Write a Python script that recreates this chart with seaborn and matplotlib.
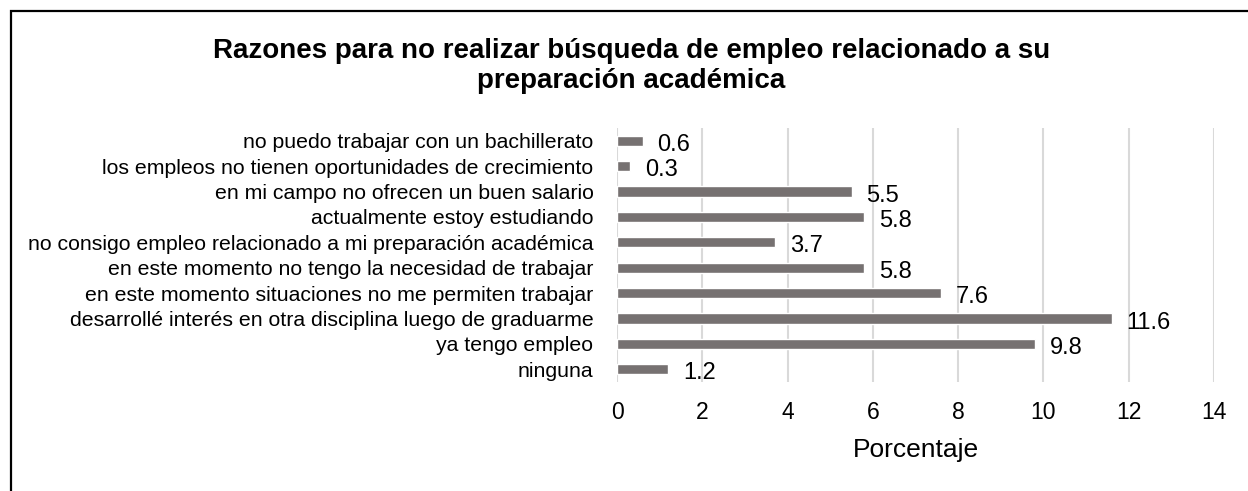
import matplotlib
matplotlib.use("Agg")
import matplotlib.pyplot as plt
import seaborn as sns
import pandas as pd
from matplotlib.patches import Rectangle

# datos, de arriba hacia abajo como aparecen en el grafico
razones = [
    "no puedo trabajar con un bachillerato",
    "los empleos no tienen oportunidades de crecimiento",
    "en mi campo no ofrecen un buen salario",
    "actualmente estoy estudiando",
    "no consigo empleo relacionado a mi preparación académica",
    "en este momento no tengo la necesidad de trabajar",
    "en este momento situaciones no me permiten trabajar",
    "desarrollé interés en otra disciplina luego de graduarme",
    "ya tengo empleo",
    "ninguna",
]
porcentajes = [0.6, 0.3, 5.5, 5.8, 3.7, 5.8, 7.6, 11.6, 9.8, 1.2]
ticks_x = [0, 2, 4, 6, 8, 10, 12, 14]

df = pd.DataFrame({"razon": razones, "pct": porcentajes})

sns.set_style("white")
plt.rcParams["font.family"] = ["Liberation Sans", "DejaVu Sans"]
plt.rcParams.update({"text.color": "black", "axes.labelcolor": "black",
                     "xtick.color": "black", "ytick.color": "black"})

fig = plt.figure(figsize=(12.48, 4.91), dpi=100)
ax = fig.add_axes([617 / 1248, 1 - 382 / 491, (1214 - 617) / 1248, (382 - 128) / 491])

sns.barplot(data=df, x="pct", y="razon", color="#767171", width=0.4,
            saturation=1, ax=ax, zorder=3)

ax.set_xlim(0, 14)
ax.set_xticks(ticks_x)
ax.set_xticklabels([str(t) for t in ticks_x], fontsize=16.5)
ax.tick_params(axis="y", labelsize=15.3, length=0, pad=17)
ax.tick_params(axis="x", length=0, pad=14)
ax.xaxis.grid(True, color="#d9d9d9", linewidth=1.5, zorder=0)
ax.yaxis.grid(False)
for s in ax.spines.values():
    s.set_visible(False)
ax.set_ylabel("")
ax.set_xlabel("Porcentaje", fontsize=19, labelpad=10)

for i, v in enumerate(porcentajes):
    ax.text(v + 0.35, i + 0.16, f"{v}", va="center", ha="left", fontsize=17)

fig.text(0.506, 0.866, "Razones para no realizar búsqueda de empleo relacionado a su\npreparación académica",
         ha="center", va="center", fontsize=20, fontweight="bold", linespacing=1.2)

# marco exterior (solo visibles arriba e izquierda)
fig.patches.append(Rectangle((11 / 1248, -0.1), 1.2, 1 - 11 / 491 + 0.1,
                             transform=fig.transFigure, fill=False,
                             edgecolor="black", linewidth=1.6))

fig.savefig("out.png", dpi=100)
